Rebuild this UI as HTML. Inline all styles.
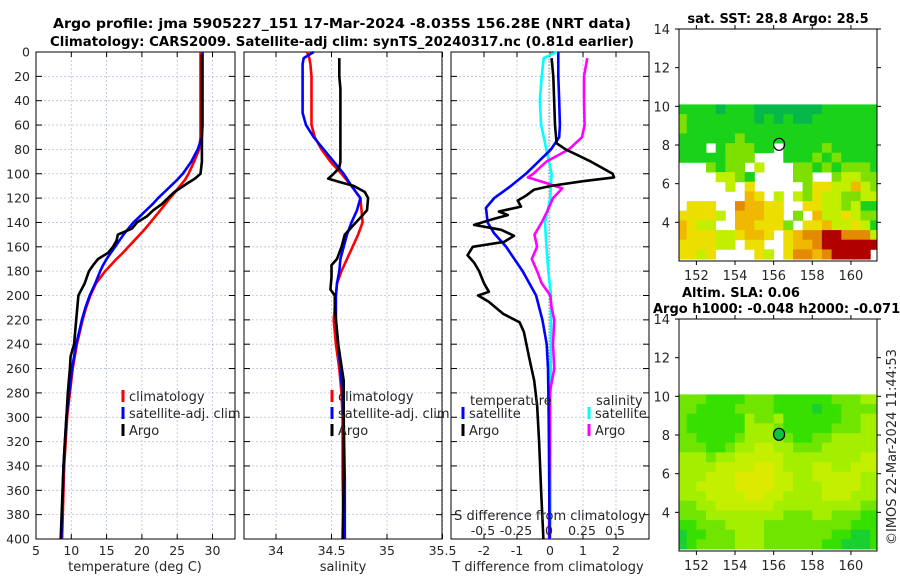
<!DOCTYPE html>
<html><head><meta charset="utf-8"><style>
html,body{margin:0;padding:0;background:#fff;}
svg{display:block;font-family:"DejaVu Sans","Liberation Sans",sans-serif;}
</style></head><body>
<svg id="fig" width="900" height="580" viewBox="0 0 900 580" xmlns="http://www.w3.org/2000/svg">
<defs>
<clipPath id="cTop"><rect x="679" y="29" width="198" height="232"/></clipPath>
<clipPath id="cBot"><rect x="679" y="319" width="198" height="232"/></clipPath>
</defs>
<text x="342" y="28" text-anchor="middle" font-size="13" font-weight="bold" textLength="578" lengthAdjust="spacingAndGlyphs">Argo profile: jma 5905227_151 17-Mar-2024 -8.035S 156.28E (NRT data)</text>
<text x="342" y="46" text-anchor="middle" font-size="13" font-weight="bold" textLength="584" lengthAdjust="spacingAndGlyphs">Climatology: CARS2009. Satellite-adj clim: synTS_20240317.nc (0.81d earlier)</text>
<text x="778" y="23" text-anchor="middle" font-size="13" font-weight="bold">sat. SST: 28.8 Argo: 28.5</text>
<text x="682" y="297" font-size="13" font-weight="bold">Altim. SLA: 0.06</text>
<text x="653" y="313" font-size="13" font-weight="bold">Argo h1000: -0.048 h2000: -0.071</text>
<text transform="translate(896,545) rotate(-90)" font-size="13" fill="#262626">©IMOS 22-Mar-2024 11:44:53</text>
<g id="g"></g>
</svg>
<script>
// ---------- profile data ----------
const depthT = [0,10,20,30,40,50,60,70,80,90,100,105,110,115,120,125,130,135,140,145,150,155,160,165,170,175,180,190,200,210,220,230,240,250,260,280,300,320,340,360,380,400];
const tempClim = [28.3,28.3,28.3,28.3,28.3,28.3,28.3,28.3,28.1,27.4,26.6,26.1,25.4,24.7,24.0,23.3,22.6,21.9,21.2,20.5,19.7,18.9,18.1,17.3,16.4,15.6,14.8,13.5,12.7,12.1,11.6,11.2,10.8,10.5,10.2,9.8,9.4,9.2,9.0,8.9,8.8,8.7];
const tempSat = [28.6,28.6,28.6,28.6,28.6,28.6,28.6,28.5,27.9,27.0,25.8,25.0,24.1,23.2,22.3,21.5,20.6,19.7,18.8,18.1,17.4,16.8,16.2,15.6,15.0,14.5,14.1,13.4,12.6,12.0,11.5,11.1,10.7,10.4,10.1,9.7,9.3,9.1,8.9,8.8,8.7,8.6];
const depthA = [2,20,40,60,80,90,100,104,108,115,120,125,130,135,140,145,150,155,160,165,170,175,180,190,200,220,240,250,260,280,300,340,400];
const tempArgo = [28.5,28.5,28.5,28.5,28.5,28.5,28.3,27.5,26.4,24.6,23.7,22.8,21.6,20.7,19.3,18.6,16.6,16.4,15.9,15.2,13.8,13.1,12.5,11.9,11.0,10.7,10.4,9.9,9.8,9.5,9.3,8.9,8.5];
const depthS = [0,5,10,20,30,40,50,60,70,80,90,100,110,120,130,140,150,160,170,180,190,200,220,240,260,280,300,350,400];
const salClim = [34.28,34.30,34.31,34.32,34.32,34.32,34.32,34.32,34.35,34.41,34.49,34.59,34.68,34.76,34.77,34.78,34.74,34.69,34.64,34.59,34.55,34.54,34.52,34.54,34.57,34.59,34.60,34.60,34.61];
const salSat = [34.34,34.25,34.24,34.24,34.24,34.24,34.24,34.27,34.34,34.43,34.52,34.61,34.68,34.76,34.73,34.68,34.64,34.61,34.58,34.57,34.55,34.54,34.54,34.56,34.58,34.60,34.61,34.62,34.62];
const depthSA = [5,20,30,40,60,90,95,100,104,107,110,115,120,130,135,145,150,160,170,175,185,195,200,210,240,270,300,350,400];
const salArgo = [34.57,34.57,34.58,34.58,34.58,34.58,34.57,34.52,34.47,34.58,34.70,34.80,34.83,34.82,34.77,34.67,34.62,34.59,34.55,34.50,34.50,34.49,34.53,34.53,34.56,34.61,34.61,34.61,34.60];
const depthD = [0,20,40,60,70,80,100,111,120,128,140,149,160,180,200,220,240,260,300,400];
const tDiffSat = [0.25,0.25,0.28,0.30,0.28,0.03,-0.73,-1.23,-1.69,-1.94,-1.89,-1.69,-1.33,-0.83,-0.42,-0.23,-0.10,-0.06,-0.04,-0.01];
const depthDA = [5,20,60,75,80,90,100,103,106,110,113,118,122,127,131,134,137,142,146,151,156,160,167,173,180,190,197,200,205,215,222,230,250,270,290,320,360,400];
const tDiffArgo = [0.05,0.10,0.15,0.20,0.48,1.24,1.90,1.94,1.03,0.03,-0.48,-0.73,-0.98,-0.88,-1.55,-1.28,-1.69,-2.30,-1.48,-1.09,-1.39,-2.34,-2.50,-2.30,-2.15,-2.00,-1.85,-2.18,-1.86,-1.42,-0.92,-0.79,-0.64,-0.48,-0.39,-0.33,-0.27,-0.20];
const depthSD = [0,5,20,40,60,80,100,120,140,160,180,200,220,300,400];
const sDiffSat = [0.06,-0.04,-0.055,-0.07,-0.06,-0.02,0.02,0.01,-0.03,-0.02,-0.005,0.015,0.015,0.012,0.01];
const depthSDA = [5,20,40,60,70,80,90,100,103,107,112,120,130,140,150,160,170,180,190,200,210,220,240,260,280,330,400];
const sDiffArgo = [0.29,0.265,0.265,0.27,0.25,0.15,-0.02,-0.12,-0.16,-0.04,0.10,0.03,-0.01,-0.055,-0.11,-0.09,-0.13,-0.09,-0.055,0.01,0.02,0.04,0.03,0.04,0.005,0.005,0.0];
const depthTicks = [0,20,40,60,80,100,120,140,160,180,200,220,240,260,280,300,320,340,360,380,400];
const tempTicks = [5,10,15,20,25,30];
const salTicks = [34,34.5,35,35.5];
const salTickLabels = ["34","34.5","35","35.5"];
const tdTicks = [-2,-1,0,1,2];
const sdTicks = [-0.5,-0.25,0,0.25,0.5];
const sdTickLabels = ["-0.5","-0.25","0","0.25","0.5"];
// ---------- map data ----------
const lonTicks = [152,154,156,158,160];
const latTicks = [4,6,8,10,12,14];
const argoLon = 156.28, argoLat = 8.035;
const sstRows = [
"bbbbabbbaaaaaaabbbbbb","cbbbbbbbababaabbbbbbb","cbbbbbbbbbbbbbbbbbbbb","bbbbbbcbbbbbbbbbbbbbb",
"bbb.bcccbb.bbbbcbbbbb","bbbbbccc...bbbcbcbbbb","...cbcc.d...ccbcbcccb","....ddcb....cc..cddcc",
".....d.e.....ceeddfdc",".......fe.d.dceddccdd",".eee..gffee..eeddcdbb","eeeed.fffee.c.fddedcc",
"fedd..ffeeec.eefddedb","feeeddeffe.efgghhgggd","eeeedd.ee..effghhhhhh","eede....ed.eggfghhhh."];
const slaRows = [
"cccbbbbcccbbbbbbcccdd","ccbbbbccccbbbbabbcccc","cbbbbbbdccdbbbbbbccdd","cbbbbbbdddcbbbbbcccdd",
"ccbbbbcddddcbbccddddd","cccbbcddeeddcccdddddd","dddcddeeeeeddddddddee","ddddeeeeffedddeeddeee",
"dddeeeffffeeddeeeeedd","ddeeeeffffeedddeeeedd","dddeeeeffeeddddeeeddd","ccddeeeeeedddddddddcc",
"cccddddddddcccddcccbb","bbcccddddcccccccccbbb","abbcccdddcccccccbbaab","abccccdddccccccbbaaab"];
const sstPal = {a:"#06b84a",b:"#1ad21a",c:"#7ee000",d:"#c2ee00",e:"#ecdf00",f:"#f0b800",g:"#e38a00",h:"#b00000"};
const slaPal = {a:"#18d030",b:"#38e000",c:"#70e600",d:"#a4ee00",e:"#c4f000",f:"#dcea00"};

const NS="http://www.w3.org/2000/svg";
const G=document.getElementById('g');
function mk(tag,attrs,parent){const e=document.createElementNS(NS,tag);for(const k in attrs)e.setAttribute(k,attrs[k]);(parent||G).appendChild(e);return e;}

const Y0=52,Y1=539;
function yD(d){return Y0+(d/400)*(Y1-Y0);}
const panels=[
 {name:'temperature',x0:36,x1:235,lo:5,hi:5+199/7.06},
 {name:'salinity',x0:244,x1:442,lo:34-32/111,hi:34-32/111+198/111},
 {name:'tdiff',x0:451,x1:649,lo:-3,hi:3}
];
function xP(p,v){return p.x0+(v-p.lo)/(p.hi-p.lo)*(p.x1-p.x0);}
function xSD(v){return 549+v*132;}

function drawFrame(p,ticks,labels,showY){
  const grp=mk('g',{});
  
  
  ticks.forEach((t,i)=>{
    const x=xP(p,t);
    const gl=mk('line',{x1:x,x2:x,y1:Y0,y2:Y1,stroke:'#b8c0dc','stroke-width':0.8,'stroke-dasharray':'2,2'},grp);
    
    
    mk('line',{x1:x,x2:x,y1:Y1,y2:Y1-5,stroke:'#000'},grp);
    mk('line',{x1:x,x2:x,y1:Y0,y2:Y0+5,stroke:'#000'},grp);
    const tl=mk('text',{x:x,y:Y1+16,'text-anchor':'middle','font-size':12.5,fill:'#262626'},grp);
    
    
    tl.textContent=labels?labels[i]:String(t);
  });
  depthTicks.forEach(d=>{
    const y=yD(d);
    const gl=mk('line',{x1:p.x0,x2:p.x1,y1:y,y2:y,stroke:'#b8c0dc','stroke-width':0.8,'stroke-dasharray':'2,2'},grp);
    
    
    mk('line',{x1:p.x0,x2:p.x0+6,y1:y,y2:y,stroke:'#000'},grp);
    mk('line',{x1:p.x1,x2:p.x1-6,y1:y,y2:y,stroke:'#000'},grp);
    if(showY){
      const tl=mk('text',{x:p.x0-6,y:y+4.5,'text-anchor':'end','font-size':12.5,fill:'#262626'},grp);
      
      
      tl.textContent=String(d);
    }
  });
  const fr=mk('rect',{x:p.x0,y:Y0,width:p.x1-p.x0,height:Y1-Y0,fill:'none',stroke:'#000','stroke-width':1},grp);
  
  
  return grp;
}
function series(xs,ds,xf,color,name){
  const pts=ds.map((d,i)=>xf(xs[i]).toFixed(1)+','+yD(d).toFixed(1)).join(' ');
  const pl=mk('polyline',{points:pts,fill:'none',stroke:color,'stroke-width':2.6,'stroke-linejoin':'round'});
  
  
}
function legend(x,y,color,label,name){
  const r=mk('rect',{x:x-1.5,y:y-8,width:3,height:12,fill:color});
  
  
  const t=mk('text',{x:x+6,y:y+3,'font-size':13,fill:'#262626'});
  
  
  t.textContent=label;
}
function axisLabel(x,y,txt,name){
  const t=mk('text',{x:x,y:y,'text-anchor':'middle','font-size':13,fill:'#262626'});
  
  
  t.textContent=txt;
}

// panel 1
const P1=panels[0],P2=panels[1],P3=panels[2];
drawFrame(P1,tempTicks,null,true);
series(tempClim,depthT,v=>xP(P1,v),'#ff0000','temp-climatology-line');
series(tempSat,depthT,v=>xP(P1,v),'#0000ff','temp-satellite-line');
series(tempArgo,depthA,v=>xP(P1,v),'#000000','temp-argo-line');
axisLabel(135,571,'temperature (deg C)','temperature-axis-title');
legend(123,398,'#ff0000','climatology','temp-legend-climatology');
legend(123,415,'#0000ff','satellite-adj. clim','temp-legend-satellite');
legend(123,432,'#000000','Argo','temp-legend-argo');
// panel 2
drawFrame(P2,salTicks,salTickLabels,false);
series(salClim,depthS,v=>xP(P2,v),'#ff0000','sal-climatology-line');
series(salSat,depthS,v=>xP(P2,v),'#0000ff','sal-satellite-line');
series(salArgo,depthSA,v=>xP(P2,v),'#000000','sal-argo-line');
axisLabel(343,571,'salinity','salinity-axis-title');
legend(332,398,'#ff0000','climatology','sal-legend-climatology');
legend(332,415,'#0000ff','satellite-adj. clim','sal-legend-satellite');
legend(332,432,'#000000','Argo','sal-legend-argo');
// panel 3
drawFrame(P3,tdTicks,null,false);
const zl=mk('line',{x1:549,x2:549,y1:yD(3),y2:Y1,stroke:'#555','stroke-width':1,'stroke-dasharray':'1,2'});


series(sDiffSat,depthSD,xSD,'#00ffff','sdiff-satellite-line');
series(sDiffArgo,depthSDA,xSD,'#ff00ff','sdiff-argo-line');
series(tDiffSat,depthD,v=>xP(P3,v),'#0000ff','tdiff-satellite-line');
series(tDiffArgo,depthDA,v=>xP(P3,v),'#000000','tdiff-argo-line');
axisLabel(548,571,'T difference from climatology','tdiff-axis-title');
axisLabel(550,520,'S difference from climatology','sdiff-axis-title');
sdTicks.forEach((v,i)=>{
  const t=mk('text',{x:xSD(v),y:535,'text-anchor':'middle','font-size':12.5,fill:'#262626'});
  
  
  t.textContent=sdTickLabels[i];
});
const lt=mk('text',{x:470,y:405,'font-size':13,fill:'#262626'});


lt.textContent='temperature';
const ls=mk('text',{x:596,y:405,'font-size':13,fill:'#262626'});


ls.textContent='salinity';
legend(463,415,'#0000ff','satellite','tdiff-legend-satellite');
legend(463,432,'#000000','Argo','tdiff-legend-argo');
legend(589,415,'#00ffff','satellite','sdiff-legend-satellite');
legend(589,432,'#ff00ff','Argo','sdiff-legend-argo');

// ---------- maps ----------
function drawMap(top,rows,pal,clip,name,fillCircle){
  const MX0=679,MX1=877,LON0=151.1,LON1=161.35,LAT0=2.0,LAT1=14.0;
  const H=232;
  const xL=lon=>MX0+(lon-LON0)/(LON1-LON0)*(MX1-MX0);
  const yL=lat=>top+(LAT1-lat)/(LAT1-LAT0)*H;
  const grp=mk('g',{});
  
  
  const cg=mk('g',{'clip-path':'url(#'+clip+')'},grp);
  rows.forEach((row,r)=>{
    for(let c=0;c<row.length;c++){
      const ch=row[c]; if(ch==='.')continue;
      const lonA=151+c*0.5, latA=10.1-r*0.5;
      const x=xL(lonA),y=yL(latA);
      const cell=mk('rect',{x:x.toFixed(1),y:y.toFixed(1),width:(xL(lonA+0.5)-x+0.4).toFixed(1),height:(yL(latA-0.5)-y+0.4).toFixed(1),fill:pal[ch]},cg);
      
      
    }
  });
  const box=mk('rect',{x:MX0,y:top,width:MX1-MX0,height:H,fill:'none',stroke:'#000'},grp);
  
  
  lonTicks.forEach(l=>{
    const x=xL(l);
    mk('line',{x1:x,x2:x,y1:top+H,y2:top+H+4,stroke:'#000'},grp);
    mk('line',{x1:x,x2:x,y1:top,y2:top-4,stroke:'#000'},grp);
    const t=mk('text',{x:x,y:top+H+19,'text-anchor':'middle','font-size':13,fill:'#262626'},grp);
    
    
    t.textContent=String(l);
  });
  latTicks.forEach(l=>{
    const y=yL(l);
    mk('line',{x1:MX0,x2:MX0-4,y1:y,y2:y,stroke:'#000'},grp);
    mk('line',{x1:MX1,x2:MX1+4,y1:y,y2:y,stroke:'#000'},grp);
    const t=mk('text',{x:MX0-9,y:y+5,'text-anchor':'end','font-size':13,fill:'#262626'},grp);
    
    
    t.textContent=String(l);
  });
  const ci=mk('ellipse',{cx:xL(argoLon),cy:yL(argoLat),rx:5.5,ry:6,fill:fillCircle,stroke:'#000','stroke-width':1.2},grp);
  
  
}
drawMap(29,sstRows,sstPal,'cTop','sst-map','none');
drawMap(319,slaRows,slaPal,'cBot','sla-map','#10c040');
</script>
</body></html>
